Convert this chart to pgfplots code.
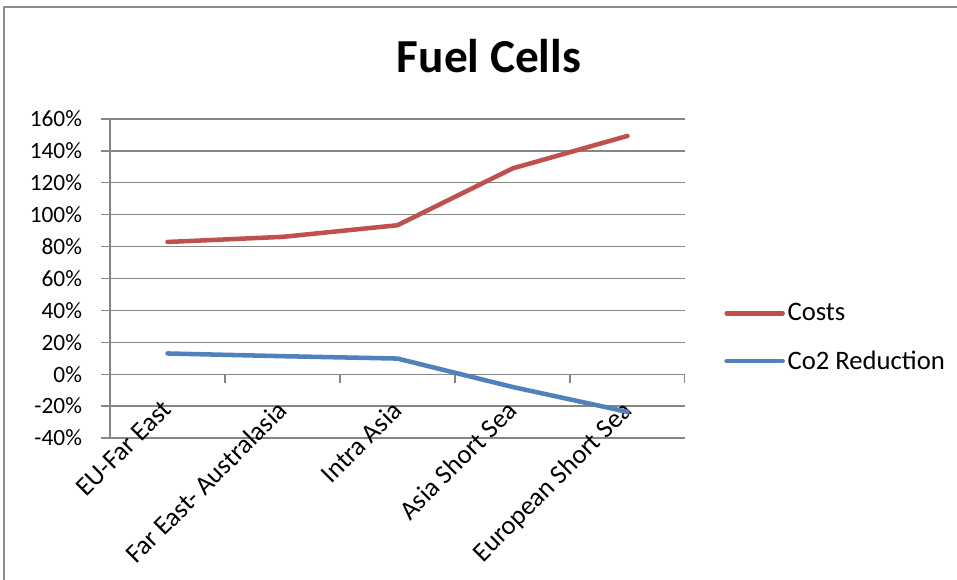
\documentclass[border=0pt]{standalone}
\usepackage{fontspec}
\setmainfont{Carlito}
\usepackage{pgfplots}
\pgfplotsset{compat=1.18}
\definecolor{costred}{HTML}{C0504D}
\definecolor{co2blue}{HTML}{4F81BD}
\definecolor{gridgrey}{HTML}{868686}
\definecolor{framegrey}{HTML}{8C8C8C}

\begin{document}
\begin{tikzpicture}
\useasboundingbox (0,0) rectangle (717.75pt,434.25pt);
% chart frame
\draw[framegrey, line width=1.5pt] (3pt,-5pt) -- (3pt,429pt) -- (725pt,429pt);
% title
\node[anchor=base, font=\fontsize{35.5}{42}\selectfont\bfseries] at (366.75pt,379.5pt) {Fuel Cells};
\begin{axis}[
  at={(82.5pt,105.75pt)}, anchor=south west,
  scale only axis, width=431.25pt, height=239.25pt,
  xmin=-0.5, xmax=4.5, ymin=-40, ymax=160,
  axis y line=left, axis x line=bottom,
  axis line style={-, draw=gridgrey, line width=1pt},
  x axis line style={draw=none},
  ytick={-40,-20,...,160},
  yticklabels={-40\%,-20\%,0\%,20\%,40\%,60\%,80\%,100\%,120\%,140\%,160\%},
  ymajorgrids, grid style={gridgrey, line width=1pt},
  tick align=outside,
  major tick length=6.75pt,
  y tick style={gridgrey, line width=1pt},
  % category names, right-aligned just below the zero line
  xtick={-0.06,0.94,1.94,2.94,3.94},
  xticklabels={EU-Far East,Far East- Australasia,Intra Asia,Asia Short Sea,European Short Sea},
  x tick style={draw=none},
  xticklabel style={rotate=45, anchor=north east, inner sep=0pt,
    font=\fontsize{20}{24}\selectfont},
  xticklabel shift=-36pt,
  yticklabel style={xshift=-10.75pt, font=\fontsize{17.5}{21}\selectfont},
  legend style={at={(1.068,0.315)}, anchor=west, draw=none, fill=none,
    inner sep=0pt, row sep=17pt, font=\fontsize{20}{24}\selectfont,
    nodes={inner sep=2pt}},
  legend cell align=left,
  legend image code/.code={\draw[#1] (0pt,0pt) -- (42pt,0pt);},
]
% horizontal axis at zero with category separator ticks
\draw[gridgrey, line width=1pt] (axis cs:-0.5,0) -- (axis cs:4.5,0);
\pgfplotsinvokeforeach{-0.5,0.5,1.5,2.5,3.5,4.5}{
  \draw[gridgrey, line width=1pt] (axis cs:#1,0) -- ++(0pt,-6.75pt);
}
\addplot[costred, line width=3.4pt, line cap=round, line join=round]
  coordinates {(0,82.9) (1,86.1) (2,93.4) (3,129.0) (4,149.4)};
\addlegendentry{Costs}
\addplot[co2blue, line width=3.4pt, line cap=round, line join=round]
  coordinates {(0,13.0) (1,11.3) (2,9.8) (3,-8.0) (4,-23.6)};
\addlegendentry{Co2 Reduction}
\end{axis}
\end{tikzpicture}
\end{document}
